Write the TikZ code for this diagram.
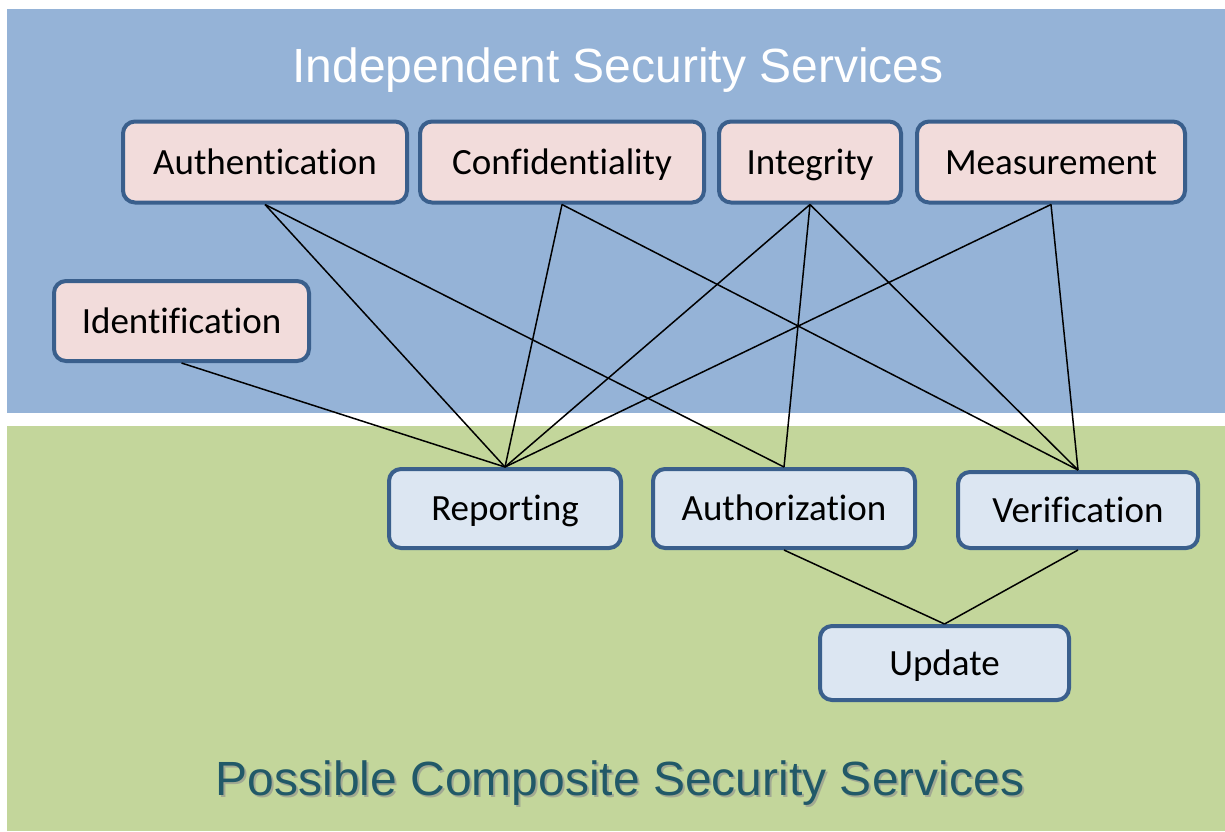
\documentclass[tikz,border=0pt]{standalone}
\usepackage{fontspec}
\setmainfont{Carlito}[Ligatures=NoCommon]
\newfontfamily\arialf{Liberation Sans}
\definecolor{bgblue}{HTML}{95B3D7}
\definecolor{bggreen}{HTML}{C3D69B}
\definecolor{edgeblue}{HTML}{3A5F8C}
\definecolor{pinkfill}{HTML}{F2DCDB}
\definecolor{bluefill}{HTML}{DCE6F2}
\definecolor{tealtext}{HTML}{215968}
\tikzset{
  svcbox/.style={draw=edgeblue, line width=4pt, rounded corners=12pt, inner sep=0pt,
    font=\fontsize{37}{44}\selectfont, text=black, text height=30pt, text depth=6pt},
  indep/.style={svcbox, fill=pinkfill},
  comp/.style={svcbox, fill=bluefill},
  link/.style={draw=black, line width=1.5pt},
}
\begin{document}
\begin{tikzpicture}[x=1pt,y=1pt]
\useasboundingbox (0,0) rectangle (1225,-831);
\fill[white] (0,0) rectangle (1225,-831);
\fill[bgblue] (7,-9) rectangle (1225,-413);
\fill[bggreen] (7,-426) rectangle (1225,-831);
\node[anchor=base, text=white, font=\arialf\fontsize{48}{56}\selectfont] (ttop) at (618,-82) {Independent Security Services};
\node[anchor=base, text=black!45, opacity=0.6, font=\arialf\fontsize{48}{56}\selectfont] (tbotsh) at (622,-797) {Possible Composite Security Services};
\node[anchor=base, text=tealtext, font=\arialf\fontsize{48}{56}\selectfont] (tbot) at (620,-795) {Possible Composite Security Services};
% independent services
\node[indep, minimum width=284pt, minimum height=81pt] (auth) at (265,-162) {Authentication};
\node[indep, minimum width=284pt, minimum height=81pt] (conf) at (562,-162) {Confidentiality};
\node[indep, minimum width=182pt, minimum height=81pt] (integ) at (810,-162) {Integrity};
\node[indep, minimum width=268pt, minimum height=81pt] (meas) at (1051,-162) {Measurement};
\node[indep, minimum width=255pt, minimum height=80pt] (ident) at (181.5,-321) {Identification};
% composite services
\node[comp, minimum width=232pt, minimum height=79pt] (rep) at (505,-508.5) {Reporting};
\node[comp, minimum width=262pt, minimum height=79pt] (authz) at (784,-508.5) {Authorization};
\node[comp, minimum width=240pt, minimum height=76pt] (verif) at (1078,-510) {Verification};
\node[comp, minimum width=249pt, minimum height=74pt] (upd) at (944.5,-663) {Update};
% connectors
\draw[link] (auth.south) -- (rep.north);
\draw[link] (auth.south) -- (authz.north);
\draw[link] (conf.south) -- (rep.north);
\draw[link] (conf.south) -- (verif.north);
\draw[link] (integ.south) -- (rep.north);
\draw[link] (integ.south) -- (authz.north);
\draw[link] (integ.south) -- (verif.north);
\draw[link] (meas.south) -- (rep.north);
\draw[link] (meas.south) -- (verif.north);
\draw[link] (ident.south) -- (rep.north);
\draw[link] (authz.south) -- (upd.north);
\draw[link] (verif.south) -- (upd.north);
\end{tikzpicture}
\end{document}
